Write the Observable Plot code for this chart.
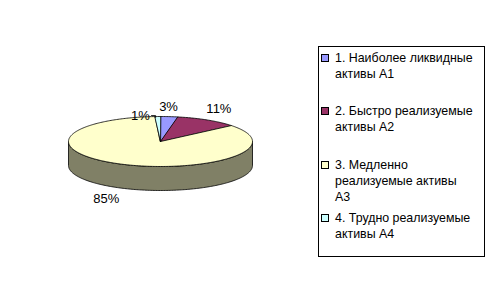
<!DOCTYPE html>
<html>
<head>
<meta charset="utf-8">
<script src="https://cdn.jsdelivr.net/npm/d3@7"></script>
<script src="https://cdn.jsdelivr.net/npm/@observablehq/plot@0.6"></script>
<style>
  body { margin: 0; background: #fff; }
  #wrap { position: relative; width: 491px; height: 308px; font-family: "Liberation Sans", Arial, sans-serif; }
  #legend { position: absolute; left: 318px; top: 46px; width: 167px; height: 211px; border: 1px solid #000; box-sizing: border-box; background: #fff; }
  .item { position: absolute; left: 0; font-size: 12.4px; line-height: 16px; color: #000; }
  .sw { position: absolute; left: 2px; top: 4px; width: 6px; height: 6px; border: 1px solid #000; }
  .tx { position: absolute; left: 16px; top: 0; white-space: pre; }
</style>
</head>
<body>
<div id="wrap"></div>
<script>
// ---- data ----
const categories = [
  "1. Наиболее ликвидные\nактивы А1",
  "2. Быстро реализуемые\nактивы А2",
  "3. Медленно\nреализуемые активы\nА3",
  "4. Трудно реализуемые\nактивы А4"
];
const shares = [3, 11, 85, 1];
const labels = ["3%", "11%", "85%", "1%"];
// ---- styles ----
const topColors  = ["#9999FF", "#993366", "#FFFFCC", "#CCFFFF"];
const sideColors = ["#4D4D80", "#4D1A33", "#808066", "#668080"];
const labelNudge = [[-1, 0], [-3, -2], [-3, 1], [-17, 9]];

// ---- layout ----
const W = 491, H = 308;
const cx = 160, cy = 141, rx = 92, ry = 25, depth = 24, gap = 4;
const pt = (a, dy = 0, k = 0) => ({x: cx + (rx + k) * Math.sin(a), y: cy - (ry + k) * Math.cos(a) + dy});
const arcPts = (a0, a1, dy = 0) => {
  const n = Math.max(2, Math.ceil((a1 - a0) / (Math.PI / 180)));
  return d3.range(n + 1).map(i => pt(a0 + (a1 - a0) * i / n, dy));
};

const arcs = d3.pie().sort(null)(shares);
const marks = [];

// sides (front half only)
arcs.forEach((d, i) => {
  const a = Math.max(d.startAngle, Math.PI / 2), b = Math.min(d.endAngle, 3 * Math.PI / 2);
  if (b <= a) return;
  const poly = [...arcPts(a, b), ...arcPts(a, b, depth).reverse()];
  marks.push(Plot.line(poly, {x: "x", y: "y", curve: "linear-closed", fill: sideColors[i], stroke: "#000", strokeWidth: 0.8}));
});
// tops
arcs.forEach((d, i) => {
  const poly = [{x: cx, y: cy}, ...arcPts(d.startAngle, d.endAngle)];
  marks.push(Plot.line(poly, {x: "x", y: "y", curve: "linear-closed", fill: topColors[i], stroke: "#000", strokeWidth: 0.8}));
});

// labels
const lab = arcs.map((d, i) => {
  const m = (d.startAngle + d.endAngle) / 2;
  const s = Math.sin(m), c = Math.cos(m);
  const p = pt(m, c < 0 ? depth : 0, gap);
  const anchor = s > 0.3 ? "start" : s < -0.3 ? "end" : "middle";
  return {text: labels[i], x: p.x + labelNudge[i][0], y: p.y + (c < 0 ? 6 : -6) + labelNudge[i][1], anchor, m, i};
});
// leader line for the displaced small label
lab.filter(l => Math.abs(labelNudge[l.i][0]) > 8).forEach(l => {
  const e = pt(l.m);
  marks.push(Plot.line([{x: l.x + 11, y: l.y}, {x: e.x - 2, y: l.y}, {x: e.x - 2, y: e.y + 1}], {x: "x", y: "y", stroke: "#000", strokeWidth: 0.8}));
});
for (const anchor of ["start", "middle", "end"]) {
  marks.push(Plot.text(lab.filter(l => l.anchor === anchor), {x: "x", y: "y", text: "text", textAnchor: anchor, fontSize: 13, fill: "#000"}));
}

const chart = Plot.plot({
  width: W, height: H,
  margin: 0,
  x: {domain: [0, W], range: [0, W], axis: null},
  y: {domain: [0, H], range: [0, H], axis: null},
  style: {fontFamily: '"Liberation Sans", Arial, sans-serif', background: "#fff", overflow: "visible"},
  marks
});
const wrap = document.getElementById("wrap");
wrap.appendChild(chart);

// legend
const legend = document.createElement("div");
legend.id = "legend";
categories.forEach((c, i) => {
  const it = document.createElement("div");
  it.className = "item";
  it.style.top = (3 + 53.3 * i) + "px";
  const sw = document.createElement("div");
  sw.className = "sw";
  sw.style.background = topColors[i];
  const tx = document.createElement("div");
  tx.className = "tx";
  tx.textContent = c;
  it.appendChild(sw); it.appendChild(tx);
  legend.appendChild(it);
});
wrap.appendChild(legend);
</script>
</body>
</html>
